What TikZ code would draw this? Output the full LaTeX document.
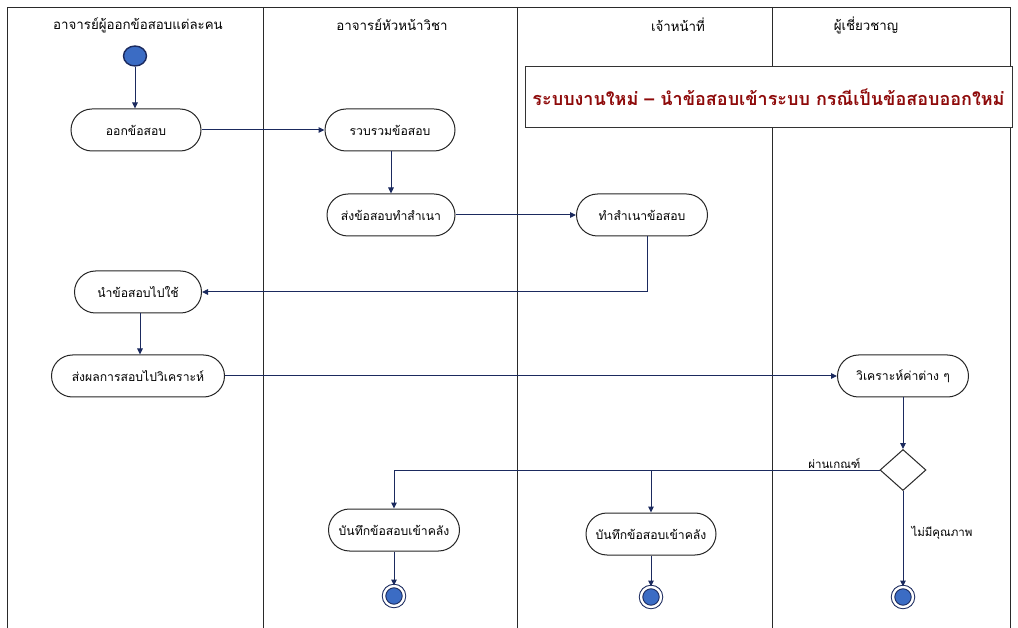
\documentclass[tikz,border=0pt]{standalone}
\usepackage{fontspec}
\setmainfont[Script=Thai]{Loma}
\usetikzlibrary{shapes.misc,shapes.geometric,arrows.meta}

\definecolor{flow}{HTML}{1B2A5E}
\definecolor{dotblue}{HTML}{3B6CC4}
\definecolor{titlered}{HTML}{8E0A0A}
\definecolor{laneline}{HTML}{2A2A2A}

\tikzset{
  lane/.style={draw=laneline, line width=0.9pt},
  lanehead/.style={font=\fontsize{13.3}{15}\selectfont, anchor=center},
  act/.style={rounded rectangle, draw=black!85, line width=1pt, fill=white,
              minimum height=42pt, inner xsep=4pt, font=\fontsize{12.2}{14}\selectfont},
  startdot/.style={ellipse, draw=flow, line width=1.4pt, fill=dotblue,
                   minimum width=23pt, minimum height=20pt, inner sep=0pt},
  enddot/.style={circle, draw=flow, line width=1pt, double=white, double distance=2.4pt,
                 fill=dotblue, minimum size=20pt, inner sep=0pt},
  decision/.style={diamond, draw=black!85, line width=1pt, fill=white,
                   minimum width=46pt, minimum height=41pt, inner sep=0pt},
  flowline/.style={draw=flow, line width=1pt, -{Triangle[length=6pt,width=5.5pt]}},
  flowlabel/.style={font=\fontsize{11.5}{13}\selectfont},
  titlebox/.style={draw=black!80, line width=1pt, fill=white, minimum width=487pt,
                   minimum height=61pt, font=\bfseries\fontsize{18}{21}\selectfont, text=titlered}
}

\begin{document}
\begin{tikzpicture}[x=1pt,y=-1pt]
  \useasboundingbox (0,0) rectangle (1018,628);

  % swimlane frame
  \draw[lane] (7,628) -- (7,7) -- (1010,7) -- (1010,628);
  \draw[lane] (263,7) -- (263,628);
  \draw[lane] (517,7) -- (517,628);
  \draw[lane] (772,7) -- (772,628);

  % lane headings
  \node[lanehead] (h1) at (138,25) {อาจารย์ผู้ออกข้อสอบแต่ละคน};
  \node[lanehead] (h2) at (392,25) {อาจารย์หัวหน้าวิชา};
  \node[lanehead] (h3) at (678,25) {เจ้าหน้าที่};
  \node[lanehead] (h4) at (866,25) {ผู้เชี่ยวชาญ};

  % title
  \node[titlebox] (title) at (768.5,97.5) {ระบบงานใหม่ – นำข้อสอบเข้าระบบ กรณีเป็นข้อสอบออกใหม่};

  % activities
  \node[startdot] (start) at (135,56) {};
  \node[act, minimum width=138pt] (a1) at (136,130) {ออกข้อสอบ};
  \node[act, minimum width=138pt] (a2) at (390,130) {รวบรวมข้อสอบ};
  \node[act, minimum width=136pt] (a3) at (391,215) {ส่งข้อสอบทำสำเนา};
  \node[act, minimum width=139pt] (a4) at (642,215) {ทำสำเนาข้อสอบ};
  \node[act, minimum width=135pt] (a5) at (138,292) {นำข้อสอบไปใช้};
  \node[act, minimum width=181pt] (a6) at (138,376) {ส่งผลการสอบไปวิเคราะห์};
  \node[act, minimum width=139pt] (a7) at (903,376) {วิเคราะห์ค่าต่าง ๆ};
  \node[decision] (dec) at (903,470) {};
  \node[act, minimum width=139pt] (r1) at (394,530) {บันทึกข้อสอบเข้าคลัง};
  \node[act, minimum width=138pt] (r2) at (651,534) {บันทึกข้อสอบเข้าคลัง};
  \node[enddot] (e1) at (394,596) {};
  \node[enddot] (e2) at (651,597) {};
  \node[enddot] (e3) at (903,597) {};

  % connectors
  \draw[flowline] (start) -- (start |- a1.north);
  \draw[flowline] (a1.east) -- (a2.west);
  \draw[flowline] (a3.north |- a2.south) -- (a3.north);
  \draw[flowline] (a3.east) -- (a4.west);
  \draw[flowline] ([xshift=5pt]a4.south) |- (a5.east);
  \draw[flowline] ([xshift=2pt]a5.south) -- ([xshift=2pt]a6.north);
  \draw[flowline] (a6.east) -- (a7.west);
  \draw[flowline] (a7.south) -- (dec.north);
  \draw[flowline] (dec.west) -| (r1.north);
  \coordinate (fork) at (r2.north |- dec.west);
  \draw[flowline] (fork) -- (r2.north);
  \draw[flowline] (dec.south) -- (e3.north);
  \draw[flowline] (r1.south) -- (e1.north);
  \draw[flowline] (r2.south) -- (e2.north);

  % guard labels
  \node[flowlabel, anchor=south east] (pass) at (864,472) {ผ่านเกณฑ์};
  \node[flowlabel, anchor=west] (fail) at (908,533) {ไม่มีคุณภาพ};
\end{tikzpicture}
\end{document}
